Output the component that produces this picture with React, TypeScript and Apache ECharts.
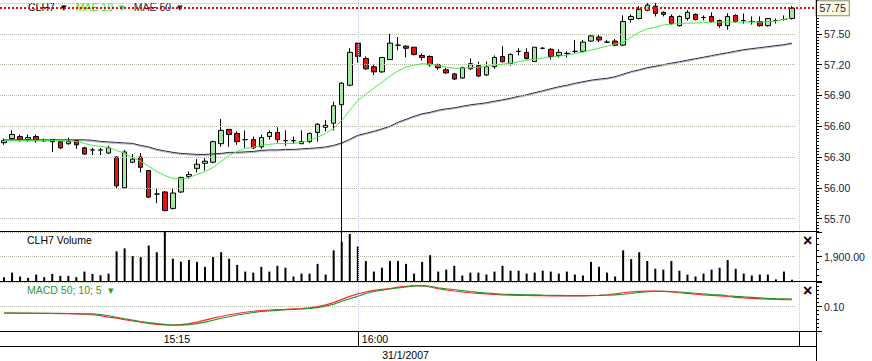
import React, { useEffect, useRef } from 'react';
import * as echarts from 'echarts';

// ---------- data ----------
const times = [
  '14:32','14:34','14:36','14:38','14:40','14:42','14:44','14:46','14:48','14:50',
  '14:52','14:54','14:56','14:58','15:00','15:02','15:04','15:06','15:08','15:10',
  '15:12','15:14','15:16','15:18','15:20','15:22','15:24','15:26','15:28','15:30',
  '15:32','15:34','15:36','15:38','15:40','15:42','15:44','15:46','15:48','15:50',
  '15:52','15:54','15:56','15:58','16:00','16:02','16:04','16:06','16:08','16:10',
  '16:12','16:14','16:16','16:18','16:20','16:22','16:24','16:26','16:28','16:30',
  '16:32','16:34','16:36','16:38','16:40','16:42','16:44','16:46','16:48','16:50',
  '16:52','16:54','16:56','16:58','17:00','17:02','17:04','17:06','17:08','17:10',
  '17:12','17:14','17:16','17:18','17:20','17:22','17:24','17:26','17:28','17:30',
  '17:32','17:34','17:36','17:38','17:40','17:42','17:44','17:46','17:48'
];

const opens = [
  56.44,56.48,56.50,56.47,56.50,56.46,56.47,56.45,56.43,56.46,
  56.39,56.37,56.37,56.34,56.30,56.00,56.25,56.30,56.17,55.94,
  55.96,55.80,55.96,56.11,56.19,56.24,56.25,56.43,56.57,56.53,
  56.47,56.47,56.40,56.50,56.54,56.46,56.46,56.43,56.45,56.54,
  56.59,56.63,56.81,57.00,57.41,57.26,57.18,57.13,57.25,57.39,
  57.38,57.37,57.29,57.28,57.20,57.15,57.11,57.07,57.16,57.19,
  57.10,57.18,57.28,57.21,57.33,57.32,57.23,57.36,57.35,57.29,
  57.31,57.33,57.33,57.43,57.47,57.42,57.43,57.39,57.64,57.65,
  57.73,57.77,57.71,57.67,57.58,57.65,57.69,57.66,57.67,57.63,
  57.58,57.68,57.63,57.62,57.62,57.58,57.63,57.64,57.65
];
const closes = [
  56.46,56.52,56.47,56.49,56.46,56.46,56.45,56.39,56.45,56.42,
  56.33,56.37,56.37,56.39,56.02,56.35,56.28,56.20,55.91,55.94,
  55.78,55.95,56.10,56.13,56.23,56.26,56.45,56.56,56.52,56.45,
  56.47,56.39,56.49,56.54,56.47,56.46,56.46,56.45,56.53,56.62,
  56.61,56.80,57.02,57.32,57.28,57.16,57.13,57.27,57.41,57.39,
  57.36,57.30,57.27,57.20,57.17,57.12,57.06,57.17,57.21,57.09,
  57.18,57.27,57.23,57.30,57.33,57.26,57.37,57.36,57.28,57.32,
  57.31,57.33,57.42,57.48,57.44,57.42,57.39,57.62,57.67,57.74,
  57.78,57.70,57.69,57.60,57.67,57.71,57.64,57.66,57.62,57.58,
  57.67,57.62,57.63,57.62,57.58,57.65,57.63,57.64,57.75
];
const lows = [
  56.42,56.46,56.45,56.45,56.44,56.45,56.35,56.38,56.42,56.38,
  56.32,56.32,56.32,56.33,55.99,55.99,56.24,56.15,55.90,55.85,
  55.77,55.79,55.95,56.09,56.15,56.17,56.24,56.40,56.40,56.42,
  56.39,56.38,56.38,56.47,56.44,56.41,56.43,56.43,56.44,56.45,
  56.55,56.56,55.40,56.99,57.22,57.15,57.10,57.12,57.25,57.34,
  57.27,57.29,57.24,57.18,57.15,57.11,57.05,57.06,57.15,57.08,
  57.09,57.16,57.22,57.19,57.29,57.25,57.23,57.35,57.25,57.27,
  57.27,57.31,57.32,57.42,57.42,57.41,57.38,57.38,57.61,57.64,
  57.72,57.67,57.67,57.59,57.57,57.63,57.63,57.63,57.61,57.56,
  57.54,57.61,57.60,57.59,57.57,57.57,57.60,57.63,57.64
];
const highs = [
  56.48,56.56,56.52,56.52,56.52,56.48,56.47,56.45,56.49,56.47,
  56.40,56.39,56.39,56.41,56.31,56.37,56.33,56.34,56.17,55.99,
  55.97,56.00,56.11,56.16,56.28,56.29,56.46,56.67,56.57,56.55,
  56.56,56.50,56.52,56.56,56.59,56.56,56.50,56.56,56.54,56.63,
  56.66,56.84,57.03,57.36,57.41,57.28,57.20,57.27,57.50,57.47,
  57.39,57.37,57.31,57.29,57.21,57.17,57.12,57.18,57.26,57.23,
  57.23,57.29,57.38,57.31,57.36,57.36,57.37,57.37,57.36,57.35,
  57.33,57.44,57.44,57.49,57.49,57.44,57.45,57.68,57.69,57.77,
  57.80,57.80,57.72,57.69,57.68,57.73,57.70,57.68,57.71,57.64,
  57.70,57.69,57.70,57.67,57.67,57.65,57.65,57.68,57.77
];

const mae10 = [
  56.463,56.463,56.463,56.463,56.463,56.463,56.463,56.458,56.458,56.453,
  56.433,56.414,56.404,56.394,56.365,56.336,56.297,56.258,56.209,56.160,
  56.121,56.092,56.082,56.101,56.131,56.160,56.199,56.258,56.316,56.355,
  56.385,56.394,56.414,56.424,56.433,56.433,56.433,56.443,56.463,56.492,
  56.531,56.580,56.658,56.756,56.853,56.912,56.971,57.029,57.088,57.137,
  57.176,57.195,57.210,57.205,57.190,57.176,57.166,57.166,57.171,57.176,
  57.185,57.195,57.205,57.215,57.229,57.244,57.254,57.264,57.273,57.283,
  57.293,57.308,57.322,57.342,57.361,57.381,57.400,57.420,57.469,57.517,
  57.547,57.566,57.586,57.596,57.601,57.605,57.605,57.610,57.615,57.615,
  57.615,57.615,57.615,57.615,57.615,57.620,57.625,57.640,57.664
];
const mae50 = [
  56.468,56.468,56.468,56.468,56.468,56.468,56.468,56.468,56.468,56.468,
  56.468,56.463,56.453,56.448,56.443,56.438,56.433,56.414,56.399,56.375,
  56.360,56.346,56.336,56.331,56.326,56.326,56.331,56.336,56.346,56.346,
  56.351,56.355,56.365,56.370,56.370,56.375,56.375,56.380,56.385,56.390,
  56.399,56.414,56.438,56.473,56.512,56.531,56.551,56.575,56.600,56.639,
  56.668,56.697,56.722,56.736,56.756,56.770,56.780,56.795,56.809,56.819,
  56.829,56.844,56.858,56.873,56.892,56.907,56.927,56.946,56.966,56.985,
  57.000,57.019,57.034,57.049,57.059,57.068,57.083,57.107,57.132,57.151,
  57.171,57.185,57.200,57.215,57.229,57.244,57.259,57.273,57.288,57.303,
  57.317,57.332,57.347,57.356,57.366,57.376,57.386,57.395,57.410
];

const volumes = [
  300,650,350,250,500,300,550,400,400,300,
  730,550,450,575,2300,2530,1930,1850,2750,2230,
  4000,1730,1500,1630,1480,1100,1850,2230,1730,1250,
  730,650,1100,730,1180,1030,350,575,575,1330,
  500,2380,3050,3650,2680,1550,730,1030,1550,1550,
  1330,575,1480,2000,730,880,1180,425,650,650,
  500,730,1180,800,800,575,650,800,730,575,
  730,500,425,1480,1100,650,350,2380,1700,2230,
  1550,950,880,1550,800,500,350,575,880,1030,
  1630,950,575,425,500,500,125,730,100
];

const macdLine = [
  -0.022,-0.022,-0.024,-0.024,-0.025,-0.025,-0.029,-0.031,-0.033,-0.036,
  -0.042,-0.051,-0.069,-0.096,-0.115,-0.142,-0.166,-0.189,-0.211,-0.227,
  -0.238,-0.240,-0.233,-0.215,-0.187,-0.151,-0.115,-0.084,-0.051,-0.029,
  -0.006,0.013,0.025,0.036,0.044,0.049,0.056,0.062,0.076,0.098,
  0.131,0.171,0.231,0.285,0.331,0.367,0.395,0.413,0.431,0.455,
  0.471,0.485,0.485,0.458,0.426,0.404,0.385,0.367,0.353,0.340,
  0.331,0.322,0.313,0.307,0.304,0.302,0.300,0.298,0.296,0.295,
  0.295,0.295,0.295,0.298,0.304,0.316,0.331,0.353,0.367,0.376,
  0.382,0.384,0.378,0.367,0.353,0.340,0.325,0.313,0.304,0.295,
  0.284,0.267,0.258,0.249,0.240,0.233,0.229,0.225,0.224
];
const signalLine = [
  -0.020,-0.020,-0.022,-0.022,-0.024,-0.024,-0.025,-0.027,-0.029,-0.031,
  -0.033,-0.036,-0.047,-0.069,-0.096,-0.124,-0.151,-0.175,-0.196,-0.215,
  -0.229,-0.242,-0.242,-0.233,-0.215,-0.187,-0.151,-0.115,-0.087,-0.056,
  -0.033,-0.009,0.007,0.018,0.029,0.040,0.047,0.055,0.065,0.080,
  0.107,0.140,0.195,0.244,0.286,0.340,0.376,0.398,0.422,0.440,
  0.458,0.476,0.484,0.471,0.442,0.426,0.411,0.393,0.375,0.360,
  0.349,0.336,0.326,0.322,0.318,0.315,0.313,0.309,0.307,0.304,
  0.300,0.300,0.300,0.302,0.304,0.307,0.313,0.326,0.340,0.358,
  0.371,0.380,0.380,0.376,0.367,0.356,0.344,0.331,0.320,0.313,
  0.298,0.286,0.276,0.267,0.258,0.249,0.244,0.240,0.236
];

const priceTicks = [55.7, 56.0, 56.3, 56.6, 56.9, 57.2, 57.5, 57.8];
const priceLabelMax = 57.5;
const lastPrice = 57.75;
const volumeTick = 1900;
const macdTick = 0.1;
const timeTickLabels = ['15:15', '16:00'];
const sessionMark = '16:00';
const dateLabel = '31/1/2007';

// ---------- helpers ----------
const FONT = '"Liberation Sans", Arial, sans-serif';
const FS = 10.5;
const toMin = (t: string) => {
  const [h, m] = t.split(':').map(Number);
  return h * 60 + m;
};
const fmtMin = (v: number) => {
  const h = Math.floor(v / 60);
  const m = Math.round(v - h * 60);
  return `${h}:${String(m).padStart(2, '0')}`;
};
const step = toMin(times[1]) - toMin(times[0]);
const minT = toMin(times[0]) - step / 2;
const maxT = toMin(times[times.length - 1]) + step / 2;

const GW = 796;
const AXIS_X = 816.5;
const LABEL_COLOR = '#1a2040';
const GRID_COLOR = '#b8b8a8';
const VGRID_COLOR = '#c4c4d8';

function buildOption() {
  const candles = times.map((_, i) => [opens[i], closes[i], lows[i], highs[i]]);
  const isMajor = (v: number) => priceTicks.some((t) => Math.abs(t - v) < 1e-6);
  const vMark = {
    silent: true,
    symbol: ['none', 'none'],
    label: { show: false },
    lineStyle: { color: VGRID_COLOR, type: [1, 1], width: 1 },
    data: [{ xAxis: sessionMark }],
  };
  const withArrow = (n: string) => n + '  ▾';

  return {
    animation: false,
    backgroundColor: '#ffffff',
    textStyle: { fontFamily: FONT },
    grid: [
      { left: 0, top: 0, width: GW, height: 231, outerBoundsMode: 'none' },
      { left: 0, top: 232, width: GW, height: 49, outerBoundsMode: 'none' },
      { left: 0, top: 282, width: GW, height: 49, outerBoundsMode: 'none' },
      { left: 0, top: 332, width: GW, height: 14, outerBoundsMode: 'none' },
    ],
    legend: [
      {
        left: 21, top: 1, padding: [0, 2, 0, 2], itemGap: 4, itemWidth: 0, itemHeight: 0,
        icon: 'none', selectedMode: false, backgroundColor: '#ffffff',
        formatter: withArrow,
        textStyle: { fontSize: FS, fontFamily: FONT },
        data: [
          { name: 'CLH7', textStyle: { color: '#000000' } },
          { name: 'MAE 10', textStyle: { color: '#2ee02e' } },
          { name: 'MAE 50', textStyle: { color: '#1a1a40' } },
        ],
      },
      {
        left: 22, top: 234, padding: 0, itemWidth: 0, itemHeight: 0, icon: 'none',
        selectedMode: false,
        textStyle: { fontSize: FS, fontFamily: FONT, color: '#000000' },
        data: ['CLH7 Volume'],
      },
      {
        left: 22, top: 284, padding: 0, itemWidth: 0, itemHeight: 0, icon: 'none',
        selectedMode: false,
        formatter: withArrow,
        textStyle: { fontSize: FS, fontFamily: FONT, color: '#2f9a2f' },
        data: ['MACD 50; 10; 5'],
      },
    ],
    xAxis: [
      { type: 'category', gridIndex: 0, data: times, boundaryGap: true, show: false },
      { type: 'category', gridIndex: 1, data: times, boundaryGap: true, show: false },
      { type: 'category', gridIndex: 2, data: times, boundaryGap: true, show: false },
      {
        type: 'value', gridIndex: 3, min: minT, max: maxT, position: 'top',
        axisLine: { show: false, onZero: false },
        axisTick: {
          show: true, inside: true, length: 14, customValues: [toMin(sessionMark)],
          lineStyle: { color: '#000000', width: 1 },
        },
        axisLabel: {
          show: true, inside: true, margin: 1, align: 'left', padding: [0, 0, 0, 4],
          customValues: [toMin(timeTickLabels[1])], formatter: fmtMin,
          fontSize: FS, color: '#000000', fontFamily: FONT,
        },
        splitLine: { show: false },
      },
      {
        type: 'value', gridIndex: 3, min: minT, max: maxT, position: 'top',
        axisLine: { show: false, onZero: false },
        axisTick: { show: false },
        axisLabel: {
          show: true, inside: true, margin: 1, align: 'center',
          customValues: [toMin(timeTickLabels[0])], formatter: fmtMin,
          fontSize: FS, color: '#000000', fontFamily: FONT,
        },
        splitLine: { show: false },
      },
      {
        type: 'value', gridIndex: 3, min: minT, max: maxT, position: 'bottom',
        axisLine: { show: false, onZero: false },
        axisTick: { show: false },
        axisLabel: { show: false },
        splitLine: { show: false },
        name: dateLabel, nameLocation: 'middle', nameGap: 3,
        nameTextStyle: { fontSize: FS, color: '#000000', fontFamily: FONT, padding: [0, 0, 0, 15] },
      },
    ],
    yAxis: [
      {
        type: 'value', gridIndex: 0, min: 55.58, max: 57.83, interval: 0.03,
        position: 'right', offset: 20,
        axisLine: { show: false },
        axisTick: { show: true, length: 3, lineStyle: { color: '#000000' } },
        axisLabel: {
          margin: 8, fontSize: FS, color: LABEL_COLOR, fontFamily: FONT,
          formatter: (v: number) => (isMajor(v) && v <= priceLabelMax + 1e-6 ? v.toFixed(2) : ''),
        },
        splitLine: { show: false },
      },
      {
        type: 'value', gridIndex: 0, min: 55.58, max: 57.83,
        position: 'right', offset: 20,
        axisLine: { show: false },
        axisTick: { show: true, length: 6, customValues: priceTicks, lineStyle: { color: '#000000' } },
        axisLabel: { show: false },
        splitLine: { show: false },
      },
      {
        type: 'value', gridIndex: 1, min: 0, max: volumeTick * 2, interval: volumeTick,
        position: 'right', offset: 20,
        axisLine: { show: false },
        axisTick: { show: true, length: 6, lineStyle: { color: '#000000' } },
        minorTick: { show: true, splitNumber: 4, length: 3, lineStyle: { color: '#000000' } },
        axisLabel: {
          margin: 8, fontSize: FS, color: LABEL_COLOR, fontFamily: FONT,
          formatter: (v: number) =>
            Math.abs(v - volumeTick) < 1e-6
              ? v.toLocaleString('en-US', { minimumFractionDigits: 2, maximumFractionDigits: 2 })
              : '',
        },
        splitLine: { show: true, lineStyle: { color: GRID_COLOR, type: [1, 1] } },
      },
      {
        type: 'value', gridIndex: 2, min: -0.35, max: 0.55, interval: 0.45,
        position: 'right', offset: 20,
        axisLine: { show: false },
        axisTick: { show: true, length: 6, lineStyle: { color: '#000000' } },
        minorTick: { show: true, splitNumber: 6, length: 3, lineStyle: { color: '#000000' } },
        axisLabel: {
          margin: 8, fontSize: FS, color: LABEL_COLOR, fontFamily: FONT,
          formatter: (v: number) => (Math.abs(v - macdTick) < 1e-6 ? v.toFixed(2) : ''),
        },
        splitLine: { show: true, lineStyle: { color: GRID_COLOR, type: [1, 1] } },
      },
      { type: 'value', gridIndex: 3, min: 0, max: 1, show: false },
    ],
    series: [
      {
        name: 'grid-main', type: 'line', xAxisIndex: 0, yAxisIndex: 0, data: [], z: 1,
        silent: true,
        markLine: {
          silent: true, symbol: ['none', 'none'], label: { show: false },
          lineStyle: { color: GRID_COLOR, type: [1, 1], width: 1 },
          data: [
            ...priceTicks.map((v) => ({ yAxis: v })),
            { xAxis: sessionMark, lineStyle: { color: VGRID_COLOR, type: [1, 1], width: 1 } },
          ],
        },
      },
      {
        name: 'last-price', type: 'line', xAxisIndex: 0, yAxisIndex: 0, data: [], z: 2,
        silent: true,
        markLine: {
          silent: true, symbol: ['none', 'none'],
          lineStyle: { color: '#ff0000', type: [2, 2], width: 2 },
          label: {
            show: true, position: 'end', distance: 1,
            formatter: lastPrice.toFixed(2),
            backgroundColor: '#fffbdc', borderColor: '#8a8a8a', borderWidth: 1,
            padding: [2, 3, 1, 3], color: LABEL_COLOR, fontSize: FS, fontFamily: FONT,
          },
          data: [[
            { coord: [times[0], lastPrice], x: 0 },
            { coord: [times[times.length - 1], lastPrice], x: AXIS_X - 1 },
          ]],
        },
      },
      {
        name: 'CLH7', type: 'candlestick', xAxisIndex: 0, yAxisIndex: 0, data: candles,
        barWidth: 5, z: 3,
        itemStyle: {
          color: '#a3eaa3', color0: '#ee1010',
          borderColor: '#000000', borderColor0: '#000000', borderColorDoji: '#000000',
          borderWidth: 1,
        },
      },
      {
        name: 'MAE 50', type: 'line', xAxisIndex: 0, yAxisIndex: 0, data: mae50, z: 4,
        symbol: 'none', silent: true,
        lineStyle: {
          color: '#2a2a48', width: 1,
          shadowColor: 'rgba(0,0,0,0.3)', shadowBlur: 1.5, shadowOffsetY: 1,
        },
      },
      {
        name: 'MAE 10', type: 'line', xAxisIndex: 0, yAxisIndex: 0, data: mae10, z: 5,
        symbol: 'none', silent: true,
        lineStyle: { color: '#44ee44', width: 1 },
      },
      {
        name: 'CLH7 Volume', type: 'bar', xAxisIndex: 1, yAxisIndex: 2, data: volumes,
        barWidth: 2, itemStyle: { color: '#000000' }, silent: true,
        markLine: vMark,
      },
      {
        name: 'MACD 50; 10; 5', type: 'line', xAxisIndex: 2, yAxisIndex: 3, data: macdLine,
        symbol: 'none', silent: true, z: 3,
        lineStyle: { color: '#ff2a2a', width: 1.2 },
        markLine: vMark,
      },
      {
        name: 'Signal', type: 'line', xAxisIndex: 2, yAxisIndex: 3, data: signalLine,
        symbol: 'none', silent: true, z: 4,
        lineStyle: { color: '#2a8f2a', width: 1.1 },
      },
    ],
    graphic: [
      { type: 'line', silent: true, z: 100, shape: { x1: 0, y1: 231.5, x2: AXIS_X, y2: 231.5 }, style: { stroke: '#000', lineWidth: 1 } },
      { type: 'line', silent: true, z: 100, shape: { x1: 0, y1: 281.5, x2: AXIS_X, y2: 281.5 }, style: { stroke: '#000', lineWidth: 1 } },
      { type: 'line', silent: true, z: 100, shape: { x1: 0, y1: 331.5, x2: AXIS_X, y2: 331.5 }, style: { stroke: '#000', lineWidth: 1 } },
      { type: 'line', silent: true, z: 100, shape: { x1: 0, y1: 346.5, x2: AXIS_X, y2: 346.5 }, style: { stroke: '#000', lineWidth: 1 } },
      { type: 'line', silent: true, z: 100, shape: { x1: AXIS_X, y1: 0, x2: AXIS_X, y2: 361 }, style: { stroke: '#000', lineWidth: 1 } },
      { type: 'line', silent: true, z: 90, shape: { x1: 799.5, y1: 0, x2: 799.5, y2: 331 }, style: { stroke: VGRID_COLOR, lineWidth: 1, lineDash: [1, 1] } },
      { type: 'line', silent: true, z: 100, shape: { x1: 799.5, y1: 332, x2: 799.5, y2: 346 }, style: { stroke: '#000', lineWidth: 1 } },
      { type: 'text', silent: true, z: 100, x: 803, y: 232, style: { text: '×', fill: '#000', font: `bold 16px ${FONT}` } },
      { type: 'text', silent: true, z: 100, x: 803, y: 282, style: { text: '×', fill: '#000', font: `bold 16px ${FONT}` } },
    ],
  };
}

export default function App() {
  const ref = useRef<HTMLDivElement>(null);
  useEffect(() => {
    if (!ref.current) return;
    const chart = echarts.init(ref.current, undefined, { renderer: 'svg' });
    chart.setOption(buildOption() as any);
    return () => chart.dispose();
  }, []);
  return (
    <div
      ref={ref}
      style={{ position: 'absolute', left: 0, top: 0, width: 872, height: 361, background: '#fff' }}
    />
  );
}
